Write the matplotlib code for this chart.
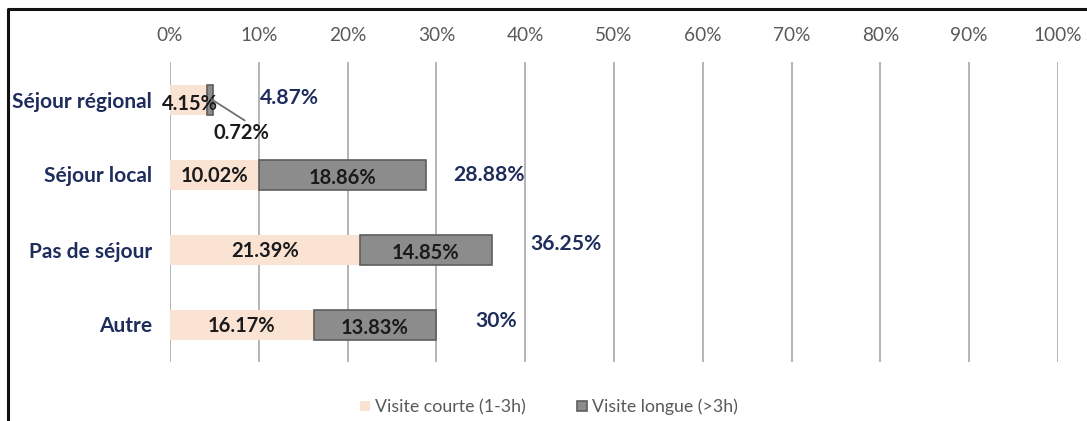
import matplotlib.pyplot as plt
from matplotlib.lines import Line2D

plt.rcParams['font.family'] = ['Lato', 'DejaVu Sans']

# data
categories = ["Séjour régional", "Séjour local", "Pas de séjour", "Autre"]
courte = [4.15, 10.02, 21.39, 16.17]
longue = [0.72, 18.86, 14.85, 13.83]
totals = [4.87, 28.88, 36.25, 30]
total_labels = ["4.87%", "28.88%", "36.25%", "30%"]
ticks = [0, 10, 20, 30, 40, 50, 60, 70, 80, 90, 100]

# hand-placed offsets for the total labels (in % and category units)
label_dx = [8.6, 7.1, 8.4, 6.7]
label_dy = [-0.02, 0.01, -0.07, -0.05]

peach = "#FBE3D4"
grey = "#8C8C8C"
navy = "#1F2D5C"

fig = plt.figure(figsize=(10.87, 4.21), dpi=100)
ax = fig.add_axes([170 / 1087, 1 - 362 / 421, 888 / 1087, 300 / 421])

y = list(range(len(categories)))
ax.barh(y, courte, height=0.4, color=peach, zorder=2, label="Visite courte (1-3h)")
ax.barh(y, longue, left=courte, height=0.4, color=grey, edgecolor="#5E5E5E",
        linewidth=1.2, zorder=2, label="Visite longue (>3h)")

ax.set_xlim(0, 100)
ax.set_ylim(3.5, -0.5)
ax.set_xticks(ticks)
ax.set_xticklabels([f"{t}%" for t in ticks])
ax.xaxis.tick_top()
ax.tick_params(axis="x", length=0, pad=13, labelsize=13.7, labelcolor="#595959")
ax.set_yticks(y)
ax.set_yticklabels(categories, fontsize=15, fontweight="bold", color=navy)
ax.tick_params(axis="y", length=0, pad=13)
ax.grid(axis="x", color="#B4B4B4", linewidth=1.4, zorder=0)
for s in ax.spines.values():
    s.set_visible(False)

seg_font = dict(ha="center", va="center", fontsize=14.5, fontweight="bold",
                color="#1A1A1A", zorder=3)

# segment labels
for i in range(len(categories)):
    if i == 0:
        ax.text(courte[i] / 2 + 0.2, i + 0.06, f"{courte[i]:.2f}%", **seg_font)
        ax.annotate(f"{longue[i]:.2f}%", xy=(courte[i] + longue[i] / 2 + 0.2, i + 0.0),
                    xytext=(8.1, i + 0.45), ha="center", va="center",
                    fontsize=14.5, fontweight="bold", color="#1A1A1A",
                    arrowprops=dict(arrowstyle="-", color="#707070", lw=1.3,
                                    shrinkA=0, shrinkB=0, relpos=(0.6, 1.05)))
    else:
        ax.text(courte[i] / 2, i + 0.02, f"{courte[i]:.2f}%", **seg_font)
        ax.text(courte[i] + longue[i] / 2, i + 0.05, f"{longue[i]:.2f}%", **seg_font)
    ax.text(totals[i] + label_dx[i], i + label_dy[i], total_labels[i], ha="center",
            va="center", fontsize=15.2, fontweight="bold", color=navy, zorder=3)

fig.legend(loc="center", bbox_to_anchor=(0.505, 1 - 407 / 421), ncol=2, frameon=False,
           fontsize=12.8, labelcolor="#595959", handlelength=0.55, handleheight=0.55,
           handletextpad=0.3, columnspacing=2.9)

# outer frame (top and left edges)
fig.add_artist(Line2D([8 / 1087, 8 / 1087, 1], [0, 1 - 9 / 421, 1 - 9 / 421],
                      color="#111111", linewidth=2.2, transform=fig.transFigure))

fig.savefig("out.png", dpi=100)
